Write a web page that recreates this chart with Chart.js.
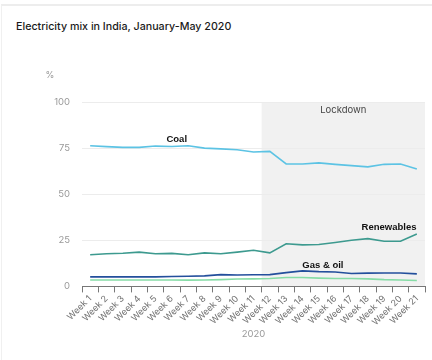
<!DOCTYPE html>
<html>
<head>
<meta charset="utf-8">
<script src="https://cdn.jsdelivr.net/npm/chart.js@4.4.1/dist/chart.umd.min.js"></script>
<style>
  html, body { margin: 0; padding: 0; background: #fff; }
  body { width: 432px; height: 360px; position: relative; overflow: hidden; }
  #frame { position: absolute; left: 1px; top: 4px; right: 0; bottom: 0; border-top: 2px solid #ededed; border-left: 1px solid #f0f0f0; }
  #title { position: absolute; left: 16px; top: 20px; font-family: Inter, "Noto Sans", sans-serif; font-size: 10.7px; font-weight: 500; color: #1a1a1a; }
  #wrap { position: absolute; left: 0; top: 0; width: 432px; height: 360px; }
</style>
</head>
<body>
<div id="frame"></div>
<div id="title">Electricity mix in India, January-May 2020</div>
<div id="wrap"><canvas id="c" width="432" height="360"></canvas></div>
<script>
const weeks = ["Week 1","Week 2","Week 3","Week 4","Week 5","Week 6","Week 7","Week 8","Week 9","Week 10","Week 11","Week 12","Week 13","Week 14","Week 15","Week 16","Week 17","Week 18","Week 19","Week 20","Week 21"];
const coal = [76.3, 75.8, 75.4, 75.4, 76.1, 75.9, 76.3, 75.0, 74.6, 74.1, 72.9, 73.2, 66.4, 66.4, 67.0, 66.2, 65.5, 64.8, 66.2, 66.4, 63.7];
const renewables = [17.2, 17.7, 18.0, 18.6, 17.7, 17.9, 17.2, 18.2, 17.7, 18.6, 19.6, 18.2, 23.1, 22.5, 22.7, 23.8, 25.0, 25.9, 24.5, 24.5, 28.4];
const gasOil = [5.2, 5.2, 5.2, 5.2, 5.2, 5.35, 5.5, 5.7, 6.4, 6.2, 6.3, 6.4, 7.5, 8.4, 8.0, 7.8, 7.0, 7.2, 7.3, 7.3, 6.8];
const other = [3.5, 3.5, 3.5, 3.5, 3.5, 3.5, 3.4, 3.5, 3.7, 4.0, 4.1, 4.3, 4.8, 4.8, 4.5, 4.3, 4.3, 4.1, 3.7, 3.5, 3.2];
const yTicks = [0, 25, 50, 75, 100];
const lockdownStart = 11; // first week index inside lockdown (Week 12)
const seriesLabels = [
  { text: "Coal", week: 5.3, value: 80 },
  { text: "Renewables", week: 18.3, value: 31.8 },
  { text: "Gas & oil", week: 14.25, value: 11.4 }
];

const overlay = {
  id: 'overlay',
  beforeDraw(chart) {
    const { ctx, chartArea, scales } = chart;
    const x = scales.x;
    const left = (x.getPixelForValue(lockdownStart - 1) + x.getPixelForValue(lockdownStart)) / 2;
    ctx.save();
    ctx.fillStyle = '#f1f1f1';
    ctx.fillRect(left, chartArea.top, chartArea.right - left, chartArea.bottom - chartArea.top);
    ctx.fillStyle = '#444';
    ctx.font = '9.5px Inter, "Noto Sans", sans-serif';
    ctx.textAlign = 'center';
    ctx.textBaseline = 'middle';
    ctx.fillText('Lockdown', (left + chartArea.right) / 2, chartArea.top + 8);
    ctx.restore();
  },
  afterDatasetsDraw(chart) {
    const { ctx, chartArea, scales } = chart;
    ctx.save();
    ctx.fillStyle = '#111';
    ctx.font = 'bold 9.5px "Liberation Sans", Arial, sans-serif';
    ctx.textAlign = 'center';
    ctx.textBaseline = 'middle';
    seriesLabels.forEach(l => {
      const px = scales.x.getPixelForValue(l.week);
      const py = scales.y.getPixelForValue(l.value);
      ctx.fillText(l.text, px, py);
    });
    ctx.fillStyle = '#999';
    ctx.font = '9px Inter, "Noto Sans", sans-serif';
    ctx.textAlign = 'center';
    ctx.fillText('%', chartArea.left - 32, chartArea.top - 27);
    ctx.restore();
  }
};

const ds = (label, data, color) => ({
  label, data, borderColor: color, backgroundColor: color,
  borderWidth: 1.6, pointRadius: 0, tension: 0, fill: false
});

new Chart(document.getElementById('c'), {
  type: 'line',
  data: {
    labels: weeks,
    datasets: [
      ds('Coal', coal, '#5cc3e4'),
      ds('Renewables', renewables, '#3d9a8f'),
      ds('Gas & oil', gasOil, '#234f9c'),
      ds('Other', other, '#86dca6')
    ]
  },
  options: {
    responsive: false,
    animation: false,
    layout: { padding: { left: 0, top: 102, right: 7, bottom: 12 } },
    plugins: { legend: { display: false }, tooltip: { enabled: false } },
    scales: {
      x: {
        offset: true,
        grid: { offset: true, drawOnChartArea: false, drawTicks: true, tickLength: 6, color: '#777' },
        border: { display: true, color: '#777', width: 1 },
        ticks: { maxRotation: 45, minRotation: 45, autoSkip: false, color: '#707070', font: { family: 'Inter, "Noto Sans", sans-serif', size: 9 }, padding: 1 },
        title: { display: true, text: '2020', color: '#999', font: { family: 'Inter, "Noto Sans", sans-serif', size: 9.5 }, padding: { top: 0, bottom: 8 } }
      },
      y: {
        min: 0, max: 100,
        afterBuildTicks(axis) { axis.ticks = yTicks.map(v => ({ value: v })); },
        afterFit(axis) { axis.width = 82; },
        grid: { drawTicks: false, color: '#ececec' },
        border: { display: false },
        ticks: { color: '#999', padding: 12, font: { family: 'Inter, "Noto Sans", sans-serif', size: 9.5 } }
      }
    }
  },
  plugins: [overlay]
});
</script>
</body>
</html>
